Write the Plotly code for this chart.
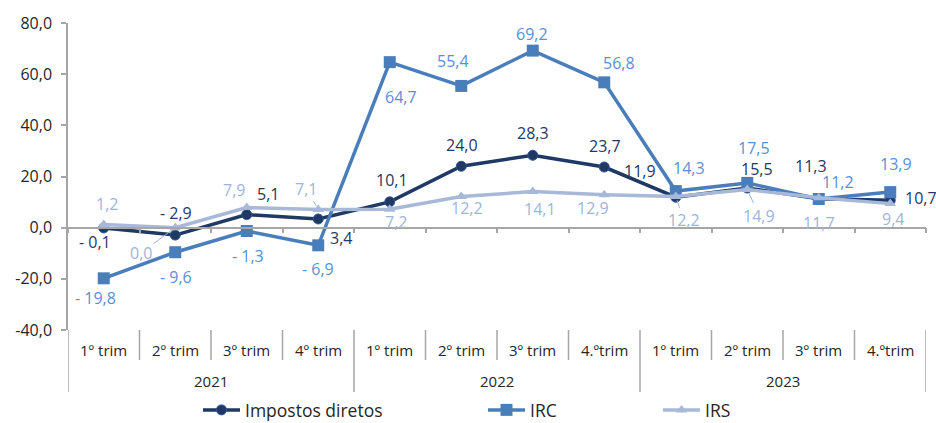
import plotly.graph_objects as go

# Quarterly year-on-year change (%) of direct taxes
quarters = ["1º trim", "2º trim", "3º trim", "4º trim",
            "1º trim", "2º trim", "3º trim", "4.ºtrim",
            "1º trim", "2º trim", "3º trim", "4.ºtrim"]
years = ["2021", "2022", "2023"]
impostos_diretos = [-0.1, -2.9, 5.1, 3.4, 10.1, 24.0, 28.3, 23.7, 11.9, 15.5, 11.3, 10.7]
irc = [-19.8, -9.6, -1.3, -6.9, 64.7, 55.4, 69.2, 56.8, 14.3, 17.5, 11.2, 13.9]
irs = [1.2, 0.0, 7.9, 7.1, 7.2, 12.2, 14.1, 12.9, 12.2, 14.9, 11.7, 9.4]
y_ticks = [-40, -20, 0, 20, 40, 60, 80]

# Label placement offsets in pixels (dx right, dy up)
off_imp = [(-9, -14), (1, 22), (21, 21), (23, -19), (2, 22), (1, 21),
           (0, 22), (1, 21), (-36, 26), (10, 19), (-8, 33), (31, 2)]
off_irc = [(-8, -20), (1, -25), (1, -25), (0, -24), (11, -35), (-8, 25),
           (-1, 17), (15, 19), (13, 23), (7, 35), (19, 17), (6, 28)]
off_irs = [(3, 21), (-34, -25), (-13, 17), (-12, 21), (6, -13), (6, -12),
           (7, -17), (-11, -13), (8, -24), (12, -26), (0, -25), (3, -15)]
leader_irs = {1, 3, 8, 9}

FONT = "Open Sans"
C_IMP, C_IRC, C_IRS = "#1F3864", "#4A7EBB", "#A7B8D9"
L_IMP, L_IRC, L_IRS = "#1F3864", "#5A8FD6", "#9DB5DB"
AXIS = "#A6A6A6"

W, H = 936, 423
M_L, M_R, M_T, M_B = 68, 10, 23, 93
PLOT_H = H - M_T - M_B

n = len(quarters)
xs = list(range(n))


def fmt(v):
    s = f"{abs(v):.1f}".replace(".", ",")
    return f"- {s}" if v < 0 else s


fig = go.Figure()
fig.add_trace(go.Scatter(x=xs, y=impostos_diretos, name="Impostos diretos", mode="lines+markers",
                         line=dict(color=C_IMP, width=3.5),
                         marker=dict(symbol="circle", size=10, color=C_IMP,
                                     line=dict(color="#2F5597", width=1)),
                         legend="legend"))
fig.add_trace(go.Scatter(x=xs, y=irc, name="IRC", mode="lines+markers",
                         line=dict(color=C_IRC, width=3.5),
                         marker=dict(symbol="square", size=12, color=C_IRC),
                         legend="legend2"))
fig.add_trace(go.Scatter(x=xs, y=irs, name="IRS", mode="lines+markers",
                         line=dict(color=C_IRS, width=3.5),
                         marker=dict(symbol="triangle-up", size=10, color=C_IRS),
                         legend="legend3"))

annotations = []
for vals, offs, col, leaders in ((impostos_diretos, off_imp, L_IMP, set()),
                                 (irc, off_irc, L_IRC, set()),
                                 (irs, off_irs, L_IRS, leader_irs)):
    for i, v in enumerate(vals):
        dx, dy = offs[i]
        if i in leaders:
            annotations.append(dict(x=i, y=v, xref="x", yref="y", text=fmt(v),
                                    showarrow=True, arrowhead=0, arrowwidth=1,
                                    arrowcolor=col, ax=dx, ay=-dy, standoff=4,
                                    font=dict(family=FONT, size=16, color=col)))
        else:
            annotations.append(dict(x=i, y=v, xref="x", yref="y", text=fmt(v),
                                    showarrow=False, xshift=dx, yshift=dy,
                                    font=dict(family=FONT, size=16, color=col)))

# Category axis labels below the plot
for i, q in enumerate(quarters):
    annotations.append(dict(x=i, y=0, xref="x", yref="paper", text=q, showarrow=False,
                            yanchor="middle", yshift=-20,
                            font=dict(family=FONT, size=15, color="#262626")))
per_year = n // len(years)
for k, yr in enumerate(years):
    annotations.append(dict(x=k * per_year + (per_year - 1) / 2, y=0, xref="x", yref="paper",
                            text=yr, showarrow=False, yanchor="middle", yshift=-51,
                            font=dict(family=FONT, size=15, color="#262626")))

shapes = []
for b in range(n + 1):
    bx = b - 0.5
    long_line = b % per_year == 0
    depth = 62 if long_line else 30
    shapes.append(dict(type="line", xref="x", yref="paper", x0=bx, x1=bx,
                       y0=0, y1=-depth / PLOT_H, line=dict(color=AXIS, width=1.5)))

legend_common = dict(orientation="h", xref="container", yref="container",
                     yanchor="top", y=1 - 392 / H, xanchor="left",
                     font=dict(family=FONT, size=17.5, color="#262626"),
                     bgcolor="rgba(0,0,0,0)", itemwidth=37)

fig.update_layout(
    width=W, height=H,
    margin=dict(l=M_L, r=M_R, t=M_T, b=M_B, autoexpand=False),
    paper_bgcolor="white", plot_bgcolor="white",
    showlegend=True,
    legend=dict(x=198 / W, **legend_common),
    legend2=dict(x=483 / W, **legend_common),
    legend3=dict(x=658 / W, **legend_common),
    xaxis=dict(range=[-0.5, n - 0.5], showgrid=False, zeroline=False,
               showline=True, linecolor=AXIS, linewidth=1.5,
               anchor="free", position=(0 - y_ticks[0]) / (y_ticks[-1] - y_ticks[0]),
               ticks="outside", tickvals=[b - 0.5 for b in range(n + 1)],
               ticklen=5, tickcolor=AXIS, tickwidth=1.5, showticklabels=False),
    yaxis=dict(range=[y_ticks[0], y_ticks[-1]], showgrid=False, zeroline=False,
               showline=True, linecolor=AXIS, linewidth=1.5,
               ticks="outside", ticklen=5, tickcolor=AXIS, tickwidth=1.5,
               tickvals=y_ticks, ticktext=[f"{t:.1f}".replace(".", ",") for t in y_ticks],
               ticklabelstandoff=6,
               tickfont=dict(family=FONT, size=16, color="#262626")),
    annotations=annotations,
    shapes=shapes,
)

fig.write_html("out.html")
